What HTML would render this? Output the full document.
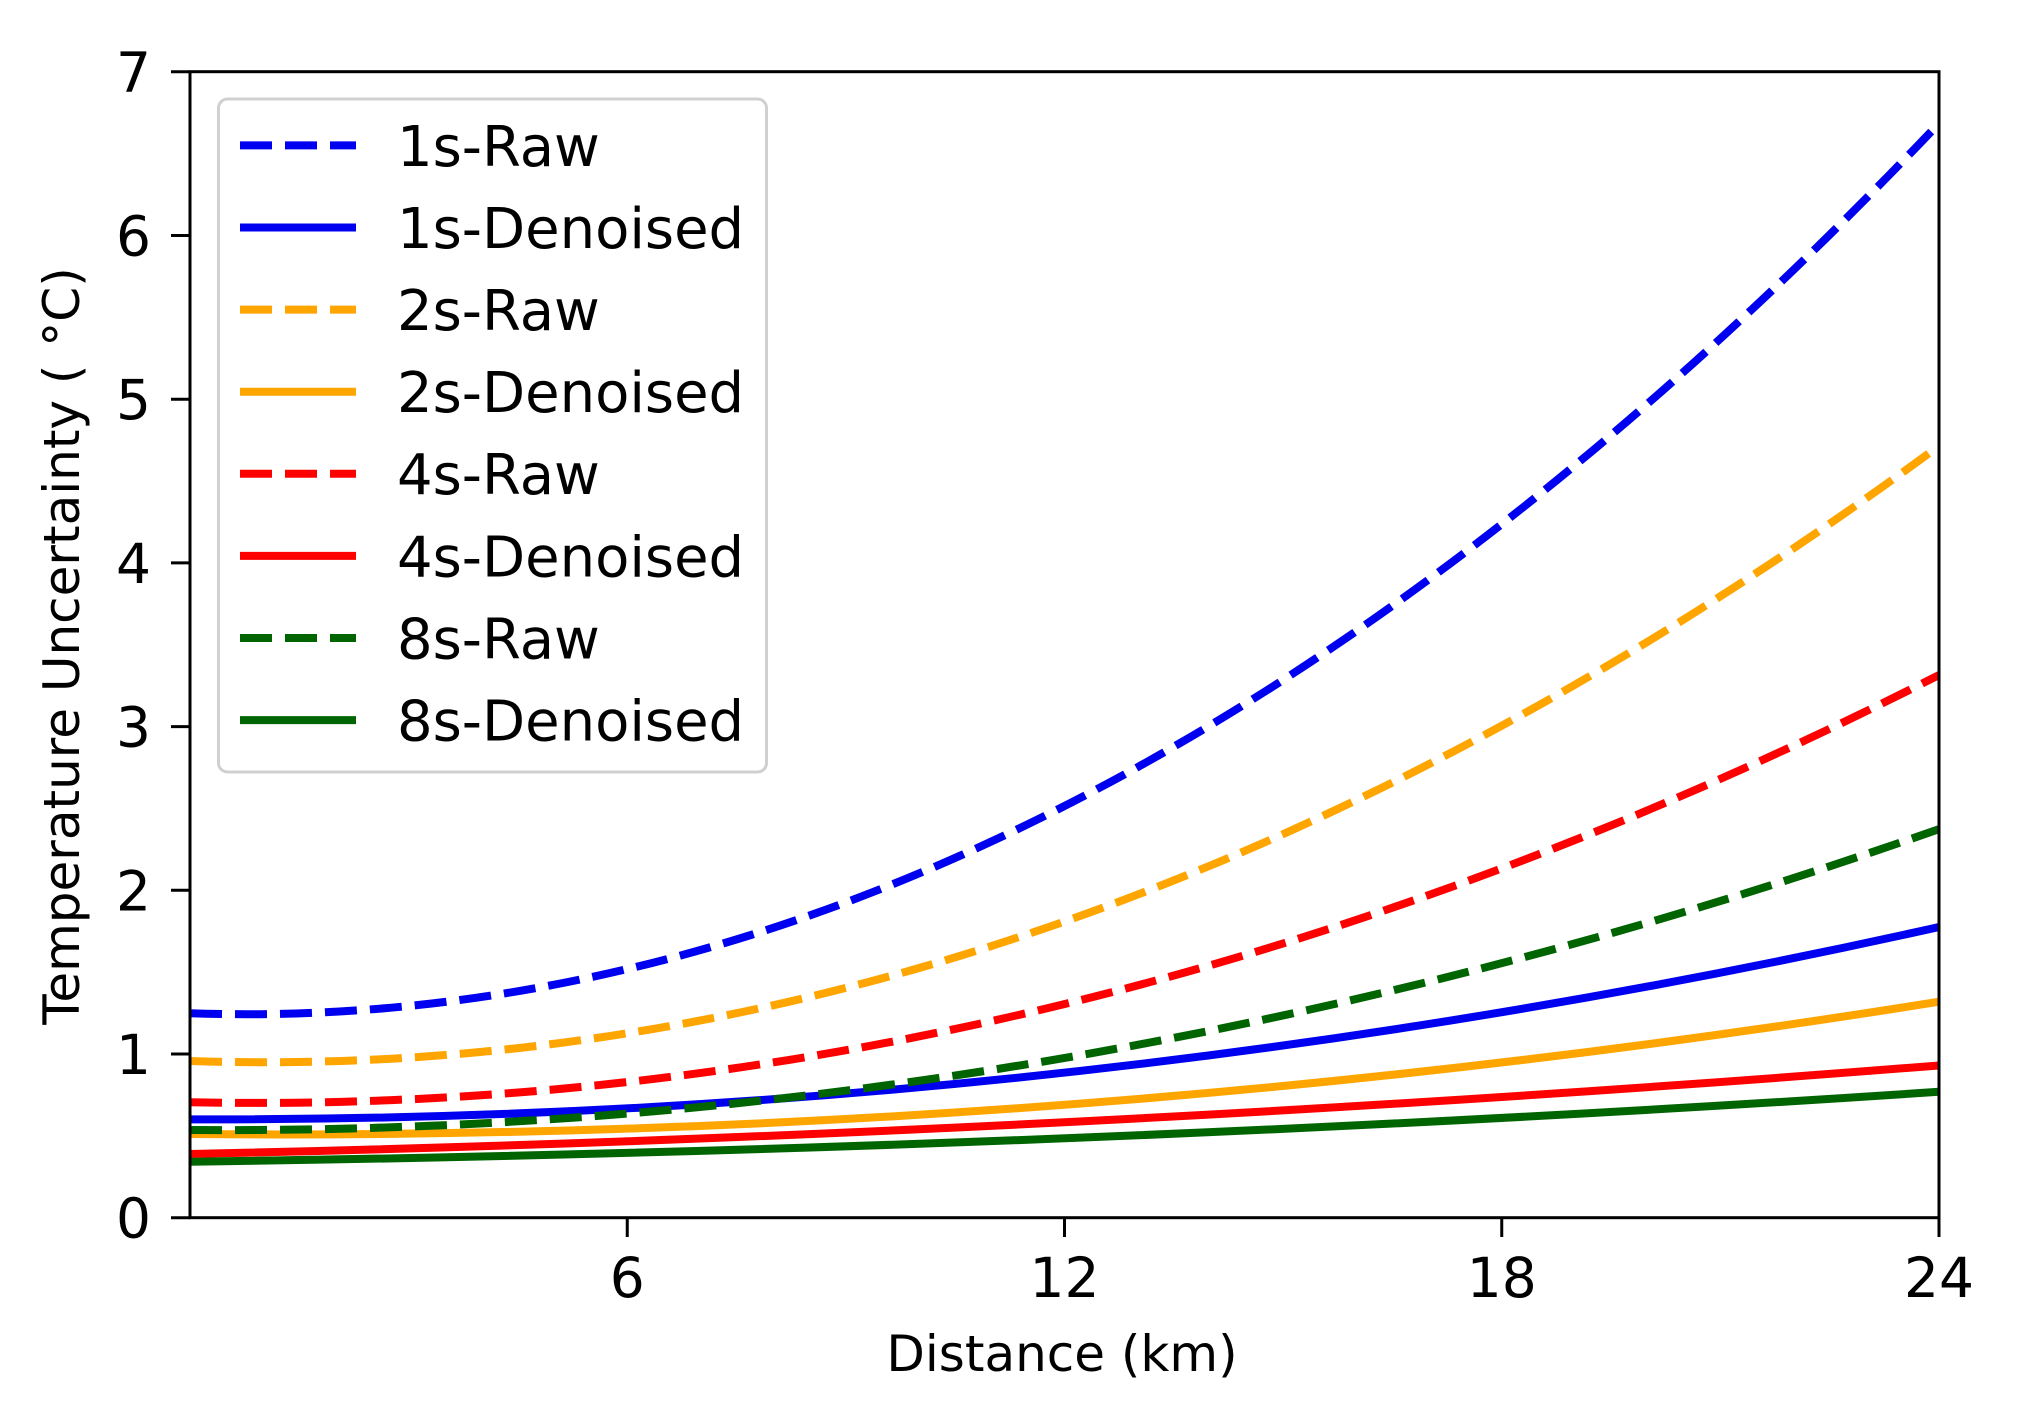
<!DOCTYPE html>
<html>
<head>
<meta charset="utf-8">
<style>
  html, body { margin: 0; padding: 0; background: #ffffff; }
  svg { display: block; }
  text { font-family: "DejaVu Sans", "Liberation Sans", sans-serif; fill: #000; }
</style>
</head>
<body>
<svg width="2024" height="1419" viewBox="0 0 2024 1419" xmlns="http://www.w3.org/2000/svg">
  <rect x="0" y="0" width="2024" height="1419" fill="#ffffff"/>
  <defs>
    <clipPath id="plotclip">
      <rect x="190" y="71.7" width="1749" height="1146"/>
    </clipPath>
  </defs>

  <!-- data curves -->
  <g clip-path="url(#plotclip)" fill="none" stroke-width="8" stroke-linecap="butt">
    <path d="M190,1013.24 Q1064.5,1043.69 1939,123.40" stroke="#0000f0" stroke-dasharray="32 13"/>
    <path d="M190,1119.32 Q1064.5,1122.17 1939,927.00" stroke="#0000f0"/>
    <path d="M190,1061.04 Q1064.5,1089.52 1939,445.90" stroke="#ffa500" stroke-dasharray="32 13"/>
    <path d="M190,1134.05 Q1064.5,1141.71 1939,1001.71" stroke="#ffa500"/>
    <path d="M190,1102.29 Q1064.5,1119.48 1939,675.02" stroke="#ff0000" stroke-dasharray="32 13"/>
    <path d="M190,1154.02 Q1064.5,1134.77 1939,1065.44" stroke="#ff0000"/>
    <path d="M190,1129.96 Q1064.5,1136.34 1939,829.11" stroke="#006400" stroke-dasharray="32 13"/>
    <path d="M190,1161.71 Q1064.5,1149.85 1939,1091.78" stroke="#006400"/>
  </g>

  <!-- axes frame -->
  <rect x="190" y="71.7" width="1749" height="1146" fill="none" stroke="#000" stroke-width="3"/>

  <!-- y ticks -->
  <g stroke="#000" stroke-width="3">
    <line x1="171" y1="1217.7" x2="190" y2="1217.7"/>
    <line x1="171" y1="1054.0" x2="190" y2="1054.0"/>
    <line x1="171" y1="890.3" x2="190" y2="890.3"/>
    <line x1="171" y1="726.6" x2="190" y2="726.6"/>
    <line x1="171" y1="562.9" x2="190" y2="562.9"/>
    <line x1="171" y1="399.2" x2="190" y2="399.2"/>
    <line x1="171" y1="235.5" x2="190" y2="235.5"/>
    <line x1="171" y1="71.8" x2="190" y2="71.8"/>
  </g>
  <g font-size="55" text-anchor="end">
    <text x="151" y="1237.7">0</text>
    <text x="151" y="1074.0">1</text>
    <text x="151" y="910.3">2</text>
    <text x="151" y="746.6">3</text>
    <text x="151" y="582.9">4</text>
    <text x="151" y="419.2">5</text>
    <text x="151" y="255.5">6</text>
    <text x="151" y="91.8">7</text>
  </g>

  <!-- x ticks -->
  <g stroke="#000" stroke-width="3">
    <line x1="627.25" y1="1217.7" x2="627.25" y2="1237"/>
    <line x1="1064.5" y1="1217.7" x2="1064.5" y2="1237"/>
    <line x1="1501.75" y1="1217.7" x2="1501.75" y2="1237"/>
    <line x1="1939" y1="1217.7" x2="1939" y2="1237"/>
  </g>
  <g font-size="55" text-anchor="middle">
    <text x="627.25" y="1297">6</text>
    <text x="1064.5" y="1297">12</text>
    <text x="1501.75" y="1297">18</text>
    <text x="1939" y="1297">24</text>
  </g>

  <!-- axis labels -->
  <text x="1062" y="1371" font-size="50" text-anchor="middle">Distance (km)</text>
  <text transform="translate(79,646) rotate(-90)" font-size="50" text-anchor="middle">Temperature Uncertainty ( <tspan dx="2">°C)</tspan></text>

  <!-- legend -->
  <rect x="218.5" y="99" width="548" height="673" rx="9" ry="9" fill="#ffffff" fill-opacity="0.8" stroke="#d0d0d0" stroke-width="3"/>
  <g fill="none" stroke-width="8" stroke-linecap="butt">
    <line x1="240" y1="145.4" x2="356" y2="145.4" stroke="#0000f0" stroke-dasharray="32 13"/>
    <line x1="240" y1="227.5" x2="356" y2="227.5" stroke="#0000f0"/>
    <line x1="240" y1="309.6" x2="356" y2="309.6" stroke="#ffa500" stroke-dasharray="32 13"/>
    <line x1="240" y1="391.7" x2="356" y2="391.7" stroke="#ffa500"/>
    <line x1="240" y1="473.8" x2="356" y2="473.8" stroke="#ff0000" stroke-dasharray="32 13"/>
    <line x1="240" y1="555.9" x2="356" y2="555.9" stroke="#ff0000"/>
    <line x1="240" y1="638.0" x2="356" y2="638.0" stroke="#006400" stroke-dasharray="32 13"/>
    <line x1="240" y1="720.1" x2="356" y2="720.1" stroke="#006400"/>
  </g>
  <g font-size="56">
    <text x="397" y="165.8">1s-Raw</text>
    <text x="397" y="247.9">1s-Denoised</text>
    <text x="397" y="330.0">2s-Raw</text>
    <text x="397" y="412.1">2s-Denoised</text>
    <text x="397" y="494.2">4s-Raw</text>
    <text x="397" y="576.3">4s-Denoised</text>
    <text x="397" y="658.4">8s-Raw</text>
    <text x="397" y="740.5">8s-Denoised</text>
  </g>
</svg>
</body>
</html>
